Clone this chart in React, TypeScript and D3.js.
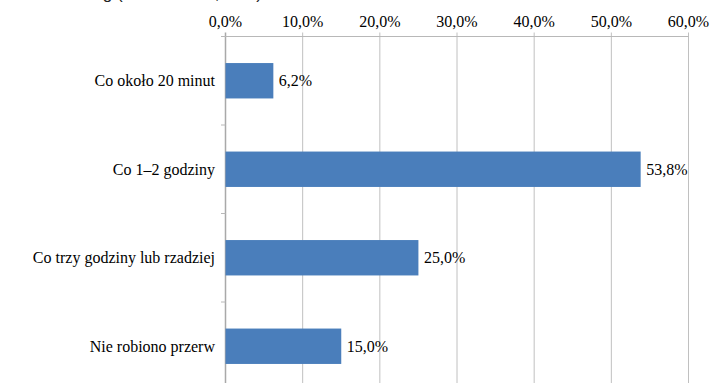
import React from "react";
import * as d3 from "d3";

const categories = ["Co około 20 minut", "Co 1–2 godziny", "Co trzy godziny lub rzadziej", "Nie robiono przerw"];
const values = [6.2, 53.8, 25.0, 15.0];
const ticks = [0, 10, 20, 30, 40, 50, 60];
const titleText = "Rozkład według (N = 80 osób, w %)";

const W = 716;
const H = 383;
const fmt = (v: number) => v.toFixed(1).replace(".", ",") + "%";

export default function App() {
  const x = d3.scaleLinear().domain([0, 60]).range([225.5, 688.5]);
  const y = d3
    .scaleBand<string>()
    .domain(categories)
    .range([36.5, 390.5])
    .paddingInner(0.6)
    .paddingOuter(0.3);
  const step = y.step();
  const top = 36.5;
  const bottom = 390.5;
  const serifStyle = { fontFamily: '"Liberation Serif", "Times New Roman", Times, serif' };
  const fs = 16;
  const boundaries = d3.range(categories.length + 1).map((i) => top + i * step);

  return (
    <svg
      width={W}
      height={H}
      style={{ position: "absolute", left: 0, top: 0, background: "#fff" }}
    >
      <text
        x={262}
        y={-1.5}
        textAnchor="end"
        style={{ fontFamily: '"Liberation Sans", Arial, sans-serif' }}
        fontSize={17}
        fill="#222"
      >
        {titleText}
      </text>
      {ticks.map((t) => (
        <line
          key={"g" + t}
          x1={x(t)}
          x2={x(t)}
          y1={32.5}
          y2={bottom}
          stroke={t === 0 ? "#a9a9a9" : "#c0c0c0"}
          strokeWidth={t === 0 ? 1.5 : 1}
        />
      ))}
      <line x1={221} x2={x(60)} y1={top} y2={top} stroke="#b8b8b8" strokeWidth={1} />
      {boundaries.map((b, i) => (
        <line key={"c" + i} x1={221} x2={x(0)} y1={b} y2={b} stroke="#b8b8b8" strokeWidth={1} />
      ))}
      {ticks.map((t) => (
        <text
          key={"t" + t}
          x={x(t)}
          y={26.5}
          textAnchor="middle"
          style={serifStyle}
          fontSize={fs}
          fill="#000"
        >
          {fmt(t)}
        </text>
      ))}
      {categories.map((c, i) => (
        <rect
          key={"b" + c}
          x={x(0)}
          y={y(c)!}
          width={x(values[i]) - x(0)}
          height={y.bandwidth()}
          fill="#4a7ebb"
        />
      ))}
      {categories.map((c, i) => (
        <text
          key={"v" + c}
          x={x(values[i]) + 5.5}
          y={y(c)! + y.bandwidth() / 2}
          dy="0.35em"
          style={serifStyle}
          fontSize={fs}
          fill="#000"
        >
          {fmt(values[i])}
        </text>
      ))}
      {categories.map((c) => (
        <text
          key={"l" + c}
          x={215}
          y={y(c)! + y.bandwidth() / 2}
          dy="0.35em"
          textAnchor="end"
          style={serifStyle}
          fontSize={fs}
          fill="#000"
        >
          {c}
        </text>
      ))}
    </svg>
  );
}
